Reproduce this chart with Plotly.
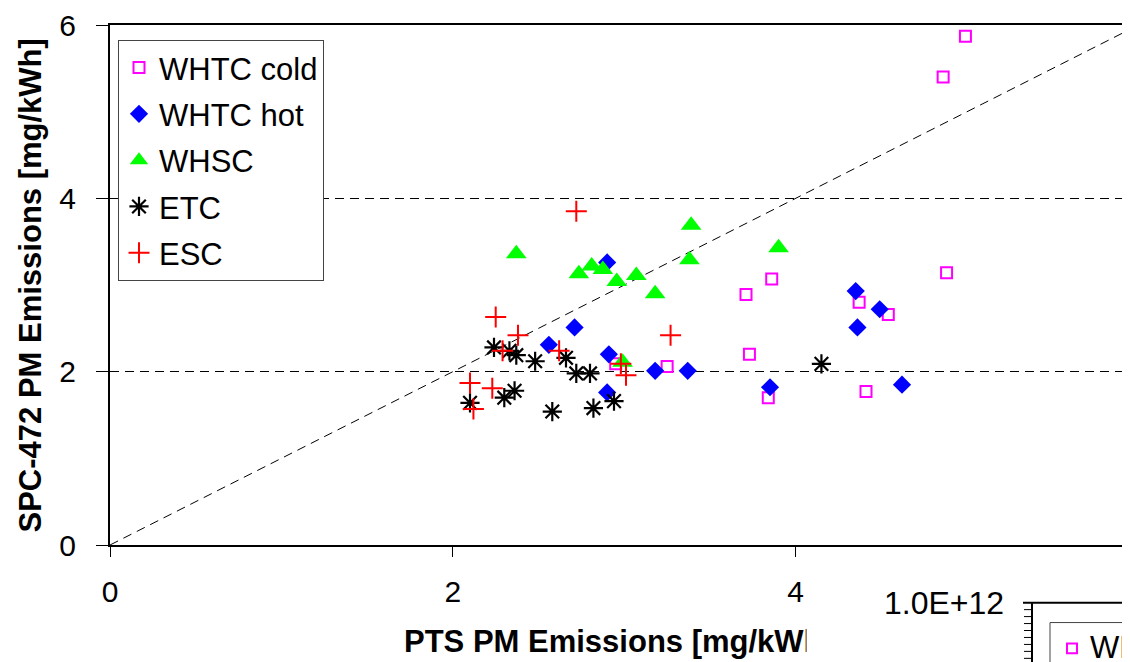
import plotly.graph_objects as go

# ---- data ----
whtc_cold_x = [4.99, 4.86, 4.88, 3.86, 3.71, 4.37, 4.54, 3.73, 3.25, 2.95, 3.84, 4.41]
whtc_cold_y = [5.87, 5.40, 3.14, 3.07, 2.89, 2.80, 2.66, 2.20, 2.06, 2.09, 1.70, 1.77]

whtc_hot_x = [2.90, 2.71, 2.56, 2.91, 3.18, 3.37, 2.90, 3.85, 4.35, 4.49, 4.36, 4.62]
whtc_hot_y = [3.26, 2.51, 2.31, 2.20, 2.01, 2.01, 1.76, 1.82, 2.93, 2.72, 2.51, 1.85]

whsc_x = [2.37, 2.735, 2.81, 2.875, 2.956, 3.07, 3.18, 3.39, 3.38, 2.99, 3.90]
whsc_y = [3.36, 3.13, 3.22, 3.18, 3.04, 3.11, 2.90, 3.69, 3.29, 2.11, 3.43]

etc_x = [2.24, 2.33, 2.37, 2.48, 2.66, 2.72, 2.80, 2.10, 2.30, 2.36, 2.58, 2.82, 2.94, 4.15]
etc_y = [2.28, 2.24, 2.19, 2.12, 2.16, 1.98, 1.98, 1.64, 1.70, 1.78, 1.54, 1.58, 1.66, 2.09]

esc_x = [2.72, 2.25, 2.38, 2.29, 2.62, 3.27, 2.98, 3.01, 2.10, 2.23, 2.12]
esc_y = [3.85, 2.63, 2.42, 2.24, 2.24, 2.42, 2.09, 1.96, 1.87, 1.81, 1.57]

series_names = ["WHTC cold", "WHTC hot", "WHSC", "ETC", "ESC"]
ref_line = [0, 6]
x_ticks = [0, 2, 4]
y_ticks = [0, 2, 4, 6]

FONT = "Liberation Sans"
OFF = 8                      # page body margin
W, H = 1130 - OFF, 662 - OFF
# plot-area edges in window pixels
L, R, T, B = 110, 1130, 22, 545


def px(xp):
    return (xp - L) / (R - L)


def py(yp):
    return (B - yp) / (B - T)


fig = go.Figure()

# 1:1 reference line
fig.add_trace(go.Scatter(x=ref_line, y=ref_line, mode="lines",
                         line=dict(color="black", width=1, dash="9px,6px"),
                         showlegend=False, hoverinfo="skip"))

fig.add_trace(go.Scatter(x=whtc_cold_x, y=whtc_cold_y, mode="markers", name=series_names[0],
                         legendgroup="a",
                         marker=dict(symbol="square-open", size=11, color="#FF00FF",
                                     line=dict(width=2, color="#FF00FF"))))
fig.add_trace(go.Scatter(x=whtc_hot_x, y=whtc_hot_y, mode="markers", name=series_names[1],
                         legendgroup="b",
                         marker=dict(symbol="diamond", size=14, color="#0000FF",
                                     line=dict(width=0))))
fig.add_trace(go.Scatter(x=whsc_x, y=whsc_y, mode="markers", name=series_names[2],
                         legendgroup="c",
                         marker=dict(symbol="triangle-up", size=18, color="#00FF00",
                                     line=dict(width=0))))
fig.add_trace(go.Scatter(x=etc_x, y=etc_y, mode="markers", name=series_names[3],
                         legendgroup="d",
                         marker=dict(symbol="asterisk-open", size=16, color="black",
                                     line=dict(width=2.2, color="black"))))
fig.add_trace(go.Scatter(x=esc_x, y=esc_y, mode="markers", name=series_names[4],
                         legendgroup="e",
                         marker=dict(symbol="cross-thin-open", size=15, color="#FF0000",
                                     line=dict(width=2, color="#FF0000"))))

fig.update_xaxes(range=[0, 5.95], tickvals=x_ticks, ticktext=[str(v) for v in x_ticks],
                 showline=True, linecolor="black", linewidth=2, mirror=True,
                 ticks="outside", ticklen=10, tickwidth=1, tickcolor="black",
                 showgrid=False, zeroline=False,
                 tickfont=dict(family=FONT, size=30, color="black"),
                 ticklabelstandoff=9, ticklabeloverflow="allow")
fig.update_yaxes(range=[0, 6], tickvals=y_ticks, ticktext=[str(v) for v in y_ticks],
                 showline=True, linecolor="black", linewidth=2,
                 ticks="outside", ticklen=12, tickwidth=1, tickcolor="black",
                 showgrid=True, gridcolor="black", gridwidth=1, griddash="9px,6px",
                 zeroline=False,
                 tickfont=dict(family=FONT, size=30, color="black"),
                 ticklabelstandoff=14, ticklabeloverflow="allow")

annotations = [
    # y-axis title
    dict(text="<b>SPC-472 PM Emissions [mg/kWh]</b>", textangle=-90,
         xref="paper", yref="paper", x=px(30), y=py(284), xanchor="center", yanchor="middle",
         showarrow=False, font=dict(family=FONT, size=31, color="black")),
    # x-axis title
    dict(text="<b>PTS PM Emissions [mg/kWh]</b>",
         xref="paper", yref="paper", x=px(402), y=py(642), xanchor="left", yanchor="middle",
         showarrow=False, font=dict(family=FONT, size=31, color="black")),
    # white area of the overlapping second chart
    dict(text=" ", xref="paper", yref="paper", x=px(806), y=py(618), xanchor="left", yanchor="top",
         width=216, height=50, bgcolor="white", borderpad=0, showarrow=False,
         font=dict(family=FONT, size=10)),
    dict(text="1.0E+12", xref="paper", yref="paper", x=px(1006), y=py(603),
         xanchor="right", yanchor="middle", showarrow=False,
         font=dict(family=FONT, size=32, color="black")),
    dict(text="WHTC cold", xref="paper", yref="paper", x=px(1088), y=py(648),
         xanchor="left", yanchor="middle", showarrow=False,
         font=dict(family=FONT, size=31, color="black")),
]

shapes = [
    dict(type="line", xref="paper", yref="paper", x0=px(1023), x1=px(1135), y0=py(603), y1=py(603),
         line=dict(color="black", width=2)),
    dict(type="line", xref="paper", yref="paper", x0=px(1032), x1=px(1032), y0=py(603), y1=py(665),
         line=dict(color="black", width=2)),
    dict(type="rect", xref="paper", yref="paper", x0=px(1050), x1=px(1160), y0=py(623), y1=py(690),
         line=dict(color="#444444", width=1), fillcolor="rgba(0,0,0,0)"),
    dict(type="rect", xref="paper", yref="paper", x0=px(1067), x1=px(1077), y0=py(644), y1=py(654),
         line=dict(color="#FF00FF", width=2), fillcolor="rgba(0,0,0,0)"),
]
for k in range(8):
    yy = 610 + 7 * k
    shapes.append(dict(type="line", xref="paper", yref="paper", x0=px(1024), x1=px(1032),
                       y0=py(yy), y1=py(yy), line=dict(color="black", width=1)))

fig.update_layout(
    width=W, height=H, autosize=False,
    margin=dict(l=L - OFF, r=W - (R - OFF), t=T - OFF, b=H - (B - OFF), pad=0),
    paper_bgcolor="white", plot_bgcolor="white",
    font=dict(family=FONT, color="black"),
    showlegend=True,
    legend=dict(x=px(118), y=py(37), xanchor="left", yanchor="top",
                bgcolor="white", bordercolor="#444444", borderwidth=1,
                font=dict(family=FONT, size=31, color="black"),
                traceorder="grouped", tracegroupgap=3, itemwidth=30),
    annotations=annotations,
    shapes=shapes,
)

fig.write_html("out.html")
